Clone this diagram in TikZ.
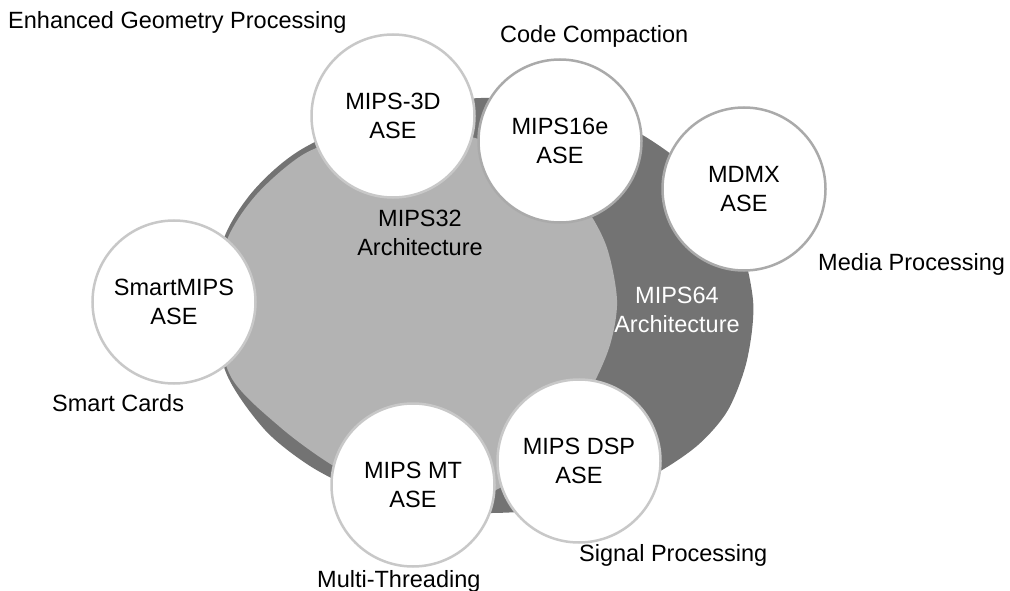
\documentclass[tikz,border=0pt]{standalone}
\usepackage{fontspec}
\setmainfont{Liberation Sans}
\definecolor{darkfill}{HTML}{737373}
\definecolor{lightfill}{HTML}{B3B3B3}
\definecolor{rimA}{HTML}{C8C8C8}
\definecolor{rimB}{HTML}{AAAAAA}
\newcommand\labfont{\fontsize{23.5bp}{28.5bp}\selectfont}
\tikzset{
  ase/.style={circle, draw=rimA, fill=white, line width=2.5bp, minimum size=163bp,
              inner sep=0pt, align=center, font=\labfont},
  aseB/.style={ase, draw=rimB},
  archtext/.style={align=center, font=\labfont, inner sep=0pt},
  lbl/.style={anchor=base west, font=\labfont, inner sep=0pt}
}
\begin{document}
\begin{tikzpicture}[x=1bp,y=-1bp]
\useasboundingbox (0,0) rectangle (1010,591);
% MIPS64 (dark) region
\fill[darkfill] plot[smooth cycle] coordinates {
  (481,98) (560,104) (630,128) (690,170) (735,230) (753,300) (747,360)
  (728,410) (698,445) (655,474) (600,497) (540,510) (481,513) (420,508)
  (360,491) (310,466) (265,430) (227,375) (211,305) (224,238) (254,190)
  (302,149) (390,110)};
% MIPS32 (light) region
\fill[lightfill] plot[smooth cycle] coordinates {
  (420,128) (475,138) (535,160) (580,200) (606,245) (617,300) (610,345)
  (590,390) (555,440) (500,488) (440,500) (380,488) (332,465) (280,427)
  (231,377) (214,305) (227,240) (257,194) (304,154) (360,134)};
\node[archtext] (m32) at (420,233) {MIPS32\\Architecture};
\node[archtext, text=white] (m64) at (677,310) {MIPS64\\Architecture};
% ASE circles
\node[ase]  (c3d)   at (393,116) {MIPS-3D\\ASE};
\node[aseB] (c16e)  at (560,141) {MIPS16e\\ASE};
\node[aseB] (cmdmx) at (744,189) {MDMX\\ASE};
\node[ase]  (csm)   at (174,302) {SmartMIPS\\ASE};
\node[ase]  (cmt)   at (413,485) {MIPS MT\\ASE};
\node[ase]  (cdsp)  at (579,461) {MIPS DSP\\ASE};
% labels
\node[lbl] (l3d)   at (8,29)    {Enhanced Geometry Processing};
\node[lbl] (l16e)  at (500,43)  {Code Compaction};
\node[lbl] (lmdmx) at (818,271) {Media Processing};
\node[lbl] (lsm)   at (52,411)  {Smart Cards};
\node[lbl] (lmt)   at (317,587) {Multi-Threading};
\node[lbl] (ldsp)  at (579,561) {Signal Processing};
\end{tikzpicture}
\end{document}
